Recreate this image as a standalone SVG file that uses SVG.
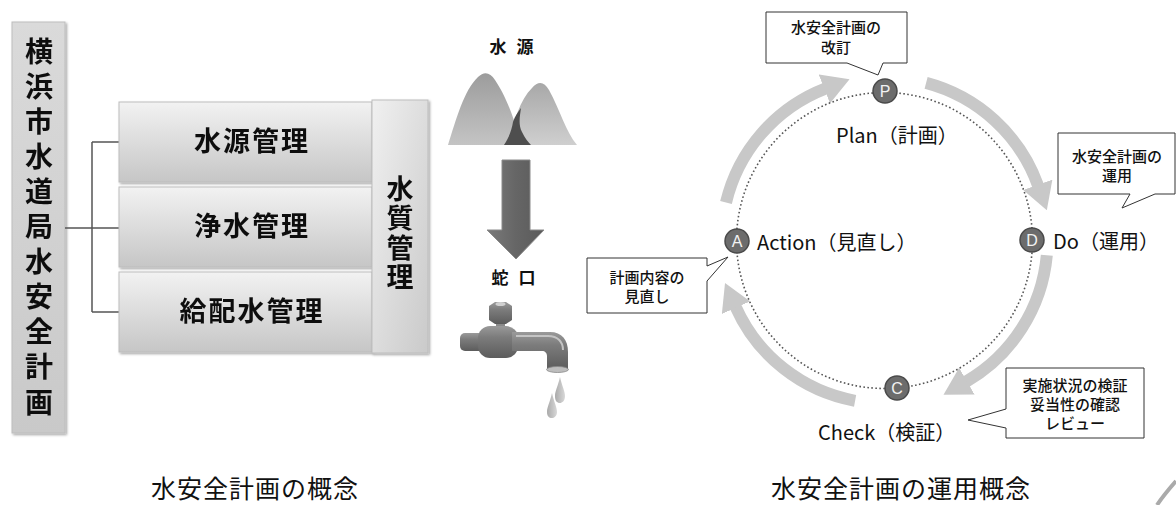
<svg xmlns="http://www.w3.org/2000/svg" width="1176" height="505" viewBox="0 0 1176 505">
  <style>
    .jp { font-family: "Noto Sans CJK JP", "Noto Sans", sans-serif; fill: #111; }
    .box-title { font-size: 27px; font-weight: 700; text-anchor: middle; letter-spacing: 2px; }
    .vert { font-size: 28px; font-weight: 700; text-anchor: middle; writing-mode: vertical-rl; letter-spacing: 7.1px; }
    .vert2 { font-size: 27px; font-weight: 700; text-anchor: middle; writing-mode: vertical-rl; letter-spacing: 2.5px; }
    .small-bold { font-size: 17px; font-weight: 700; text-anchor: middle; letter-spacing: 3px; }
    .phase { font-size: 20px; }
    .note { font-size: 15px; font-weight: 500; text-anchor: middle; }
    .caption { font-size: 25px; text-anchor: middle; letter-spacing: 1px; }
    .link { fill: none; stroke: #555; stroke-width: 1.5; }
    .callout { fill: #fff; stroke: #333; stroke-width: 1; }
    .cycle-arrow { fill: none; stroke: #c8c8c8; stroke-width: 12; marker-end: url(#head); }
    .ring { fill: none; stroke: #555; stroke-width: 1.6; stroke-dasharray: 1.6 2.4; }
    .dot { fill: #6c6c6c; stroke: #4a4a4a; stroke-width: 1.5; }
    .dot-letter { font-family: "Liberation Sans", sans-serif; font-size: 16px; fill: #f2f2f2; text-anchor: middle; }
  </style>
  <defs>
    <linearGradient id="boxGrad" x1="0" y1="0" x2="0" y2="1">
      <stop offset="0" stop-color="#f2f2f2"/>
      <stop offset="1" stop-color="#c6c6c6"/>
    </linearGradient>
    <linearGradient id="sideGrad" x1="0" y1="0" x2="1" y2="1">
      <stop offset="0" stop-color="#f0f0f0"/>
      <stop offset="1" stop-color="#cacaca"/>
    </linearGradient>
    <linearGradient id="colGrad" x1="0" y1="0" x2="0" y2="1">
      <stop offset="0" stop-color="#dadada"/>
      <stop offset="1" stop-color="#c9c9c9"/>
    </linearGradient>
    <linearGradient id="mtnGrad" x1="0" y1="0" x2="0" y2="1">
      <stop offset="0" stop-color="#9c9c9c"/>
      <stop offset="1" stop-color="#c4c4c4"/>
    </linearGradient>
    <linearGradient id="mtnGrad2" x1="0" y1="0" x2="0" y2="1">
      <stop offset="0" stop-color="#a8a8a8"/>
      <stop offset="1" stop-color="#cfcfcf"/>
    </linearGradient>
    <linearGradient id="flowGrad" x1="0" y1="0" x2="1" y2="0">
      <stop offset="0" stop-color="#7a7a7a"/>
      <stop offset="0.5" stop-color="#666"/>
      <stop offset="1" stop-color="#5a5a5a"/>
    </linearGradient>
    <linearGradient id="pipeGrad" x1="0" y1="0" x2="0" y2="1">
      <stop offset="0" stop-color="#9a9a9a"/>
      <stop offset="0.35" stop-color="#7c7c7c"/>
      <stop offset="1" stop-color="#5c5c5c"/>
    </linearGradient>
    <linearGradient id="dropGrad" x1="0" y1="0" x2="1" y2="0">
      <stop offset="0" stop-color="#aaa"/>
      <stop offset="1" stop-color="#d8d8d8"/>
    </linearGradient>
    <filter id="shadow" x="-10%" y="-10%" width="130%" height="130%">
      <feDropShadow dx="1.5" dy="1.5" stdDeviation="1.2" flood-color="#000" flood-opacity="0.35"/>
    </filter>
    <marker id="head" markerUnits="userSpaceOnUse" markerWidth="27" markerHeight="31" viewBox="0 0 27 31" refX="1" refY="15.5" orient="auto">
      <path d="M0,0 L27,15.5 L0,31 Z" fill="#c8c8c8"/>
    </marker>
  </defs>

  <!-- ===== Concept: organisation of the plan ===== -->
  <g id="plan-column" filter="url(#shadow)">
    <rect x="12" y="22" width="53" height="411" fill="url(#colGrad)" stroke="#bdbdbd" stroke-width="1"/>
    <text class="jp vert" x="39" y="230">横浜市水道局水安全計画</text>
  </g>

  <g id="connectors">
    <path class="link" d="M65,228 H92 M92,142 V312 M92,142 H119 M92,228 H119 M92,312 H119"/>
  </g>

  <g id="source-mgmt" filter="url(#shadow)">
    <rect x="119" y="102" width="253" height="80" fill="url(#boxGrad)" stroke="#bdbdbd" stroke-width="1"/>
    <text class="jp box-title" x="252" y="151.3">水源管理</text>
  </g>
  <g id="treatment-mgmt" filter="url(#shadow)">
    <rect x="119" y="187" width="253" height="80" fill="url(#boxGrad)" stroke="#bdbdbd" stroke-width="1"/>
    <text class="jp box-title" x="252" y="236.3">浄水管理</text>
  </g>
  <g id="distribution-mgmt" filter="url(#shadow)">
    <rect x="119" y="272" width="253" height="80" fill="url(#boxGrad)" stroke="#bdbdbd" stroke-width="1"/>
    <text class="jp box-title" x="252" y="321.3">給配水管理</text>
  </g>
  <g id="quality-mgmt" filter="url(#shadow)">
    <rect x="372" y="100" width="56" height="253" fill="url(#sideGrad)" stroke="#bdbdbd" stroke-width="1"/>
    <text class="jp vert2" x="400" y="234">水質管理</text>
  </g>

  <!-- ===== Source to tap ===== -->
  <g id="water-source">
    <text class="jp small-bold" x="513" y="53">水 源</text>
    <!-- rear peak -->
    <path d="M508,145 C514,120 520,100 532,88 C538,81 544,81 549,90 C560,110 566,132 577,145 Z" fill="url(#mtnGrad2)"/>
    <!-- front peak -->
    <path d="M448,145 C456,120 464,90 478,77 C484,71 490,72 495,80 C505,95 512,112 522,145 Z" fill="url(#mtnGrad)"/>
    <!-- gorge -->
    <path d="M504,145 C510,136 512,128 513,122 C515,116 518,112 521,108 C520,116 518,124 522,132 C525,138 528,142 531,145 Z" fill="#4e4e4e"/>
  </g>

  <g id="flow-arrow">
    <path d="M502,160 H530 V230 H544 L516,259 L487,230 H502 Z" fill="url(#flowGrad)" stroke="#8a8a8a" stroke-width="1"/>
  </g>

  <g id="tap">
    <text class="jp small-bold" x="515" y="284">蛇 口</text>
    <!-- valve nut -->
    <rect x="496" y="321" width="9" height="12" fill="#8a8a8a"/>
    <path d="M489,306 L495,302 H506 L512,306 V320 L506,324 H495 L489,320 Z" fill="url(#pipeGrad)"/>
    <ellipse cx="500.5" cy="304" rx="5" ry="2" fill="#d0d0d0"/>
    <!-- inlet pipe and body -->
    <rect x="460" y="333" width="40" height="18" rx="5" fill="url(#pipeGrad)"/>
    <rect x="478" y="326" width="40" height="32" rx="12" fill="url(#pipeGrad)"/>
    <!-- spout -->
    <path d="M512,332 H550 C562,332 568,340 568,352 V369 H547 V356 C547,353 545,351 542,351 H512 Z" fill="url(#pipeGrad)"/>
    <path d="M516,336 H548 C558,336 563,342 563,350" fill="none" stroke="#c4c4c4" stroke-width="2"/>
    <ellipse cx="557.5" cy="369.5" rx="11" ry="3" fill="#bdbdbd" stroke="#888" stroke-width="0.8"/>
    <!-- drops -->
    <path d="M560,377 C562,386 565,391 565,396 C565,401 562,403 560,403 C557,403 555,401 555,396 C555,391 558,386 560,377 Z" fill="url(#dropGrad)"/>
    <path d="M552,393 C554,402 557,407 557,412 C557,416 554,418 552,418 C549,418 547,416 547,412 C547,407 550,402 552,393 Z" fill="url(#dropGrad)"/>
  </g>

  <text class="jp caption" x="255" y="498">水安全計画の概念</text>

  <!-- ===== PDCA cycle ===== -->
  <g id="cycle-arrows">
    <path class="cycle-arrow" d="M726.0,202.5 A163,163 0 0 1 825.3,88.6"/>
    <path class="cycle-arrow" d="M926.1,82.9 A163,163 0 0 1 1038.1,185.8"/>
    <path class="cycle-arrow" d="M1046.8,255.3 A163,163 0 0 1 966.0,381.7"/>
    <path class="cycle-arrow" d="M855.1,400.8 A163,163 0 0 1 735.6,306.8"/>
  </g>

  <g id="cycle-ring">
    <circle class="ring" cx="884.5" cy="240.5" r="148"/>
  </g>

  <g id="plan">
    <circle class="dot" cx="885" cy="91" r="12"/>
    <text class="dot-letter" x="885" y="96.8">P</text>
    <text class="jp phase" x="836" y="143">Plan（計画）</text>
  </g>
  <g id="do">
    <circle class="dot" cx="1032" cy="240" r="12"/>
    <text class="dot-letter" x="1032" y="245.8">D</text>
    <text class="jp phase" x="1053" y="249">Do（運用）</text>
  </g>
  <g id="check">
    <circle class="dot" cx="897" cy="388" r="12"/>
    <text class="dot-letter" x="897" y="393.8">C</text>
    <text class="jp phase" x="818" y="440">Check（検証）</text>
  </g>
  <g id="action">
    <circle class="dot" cx="737" cy="241" r="12"/>
    <text class="dot-letter" x="737" y="246.8">A</text>
    <text class="jp phase" x="757" y="250">Action（見直し）</text>
  </g>

  <g id="note-revise">
    <path class="callout" d="M766,12 H907 V63 H883 L878,75 L847,63 H766 Z"/>
    <text class="jp note" x="836" y="32.5">水安全計画の</text>
    <text class="jp note" x="836" y="53">改訂</text>
  </g>
  <g id="note-operate">
    <path class="callout" d="M1058,133 H1175 V194 H1155 L1122,208 L1130,194 H1058 Z"/>
    <text class="jp note" x="1117" y="161.5">水安全計画の</text>
    <text class="jp note" x="1117" y="181">運用</text>
  </g>
  <g id="note-verify">
    <path class="callout" d="M1006,368 H1144 V438 H1006 V428 L968,420 L1006,409 Z"/>
    <text class="jp note" x="1075" y="390.5">実施状況の検証</text>
    <text class="jp note" x="1075" y="409.5">妥当性の確認</text>
    <text class="jp note" x="1075" y="428.5">レビュー</text>
  </g>
  <g id="note-review">
    <path class="callout" d="M587,258 H707 V266 L728,257 L707,281 V313 H587 Z"/>
    <text class="jp note" x="647" y="282.5">計画内容の</text>
    <text class="jp note" x="647" y="301.5">見直し</text>
  </g>

  <text class="jp caption" x="901" y="498">水安全計画の運用概念</text>

  <!-- edge of a neighbouring figure -->
  <path d="M1157,505 C1163,496 1169,489 1176,481" fill="none" stroke="#aaa" stroke-width="4"/>
</svg>
